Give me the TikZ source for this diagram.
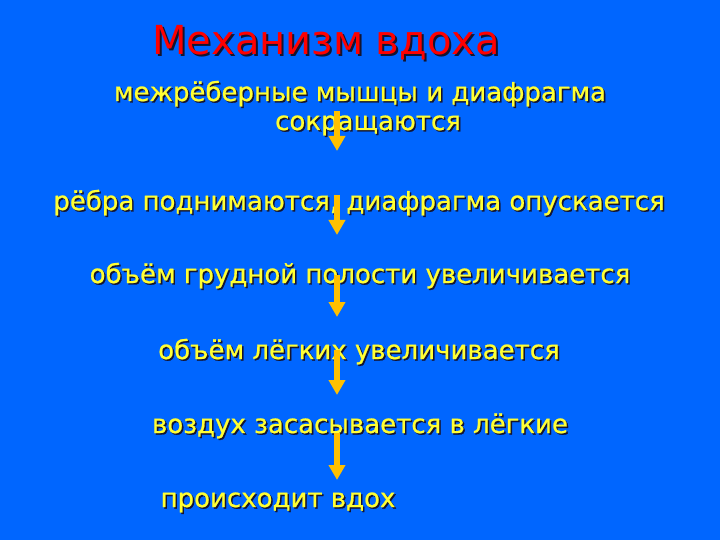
\documentclass[tikz,border=0pt]{standalone}
\usepackage{fontspec}
\setmainfont{DejaVu Sans}
\newfontfamily\semib{DejaVu Sans}[FakeBold=0.8]
\usetikzlibrary{arrows.meta}
\definecolor{bg}{HTML}{0066FF}
\definecolor{ytxt}{HTML}{FFFF33}
\definecolor{rtxt}{HTML}{FF0000}
\definecolor{shad}{HTML}{141430}
\definecolor{arr}{HTML}{FFC000}
\newcommand\shadowed[2][1.5pt]{\rlap{\kern#1\raisebox{-#1}{\color{shad}#2}}#2}
\tikzset{
  txt/.style={inner sep=0pt, anchor=base, text=ytxt, font=\semib\fontsize{26}{30}\selectfont},
  ttl/.style={inner sep=0pt, anchor=base, text=rtxt, font=\fontsize{40}{44}\selectfont},
  flow/.style={draw=arr, line width=6pt, -{Triangle[width=16pt,length=15pt]}}
}
\begin{document}
\begin{tikzpicture}[x=1pt,y=1pt]
\fill[bg] (0,0) rectangle (720,-540);
\useasboundingbox (0,0) rectangle (720,-540);
% title
\node[ttl] (title) at (326,-55) {\shadowed[2pt]{Механизм вдоха}};
% lines
\node[txt] (l1) at (360,-101) {\shadowed{межрёберные мышцы и диафрагма}};
\node[txt] (l1b) at (368,-130) {\shadowed{сокращаются}};
\node[txt] (l2) at (359,-210) {\shadowed{рёбра поднимаются, диафрагма опускается}};
\node[txt] (l3) at (360,-283) {\shadowed{объём грудной полости увеличивается}};
\node[txt] (l4) at (359,-359) {\shadowed{объём лёгких увеличивается}};
\node[txt] (l5) at (360,-433) {\shadowed{воздух засасывается в лёгкие}};
\node[txt] (l6) at (278,-507) {\shadowed{происходит вдох}};
% arrows
\coordinate (a1s) at (337,-111); \coordinate (a1e) at (337,-151);
\coordinate (a2s) at (337,-195); \coordinate (a2e) at (337,-235);
\coordinate (a3s) at (337,-275); \coordinate (a3e) at (337,-317);
\coordinate (a4s) at (337,-350); \coordinate (a4e) at (337,-395);
\coordinate (a5s) at (337,-433); \coordinate (a5e) at (337,-480);
\draw[flow] (a1s) -- (a1e);
\draw[flow] (a2s) -- (a2e);
\draw[flow] (a3s) -- (a3e);
\draw[flow] (a4s) -- (a4e);
\draw[flow] (a5s) -- (a5e);
\end{tikzpicture}
\end{document}
